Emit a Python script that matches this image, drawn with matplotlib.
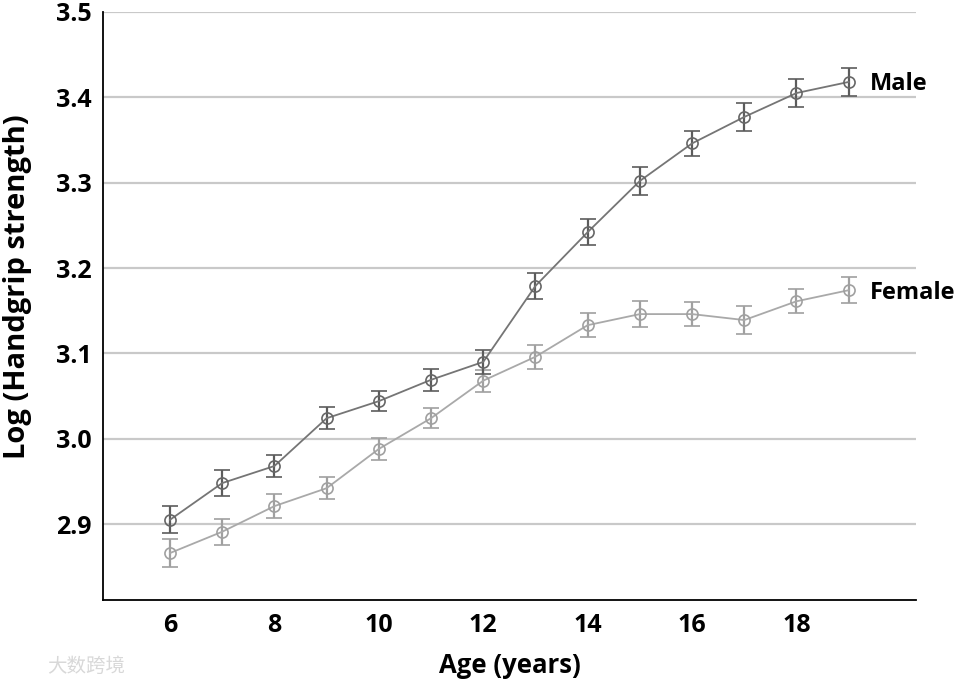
import matplotlib
matplotlib.use("Agg")
from matplotlib import pyplot as plt

ages = [6, 7, 8, 9, 10, 11, 12, 13, 14, 15, 16, 17, 18, 19]
male = [2.905, 2.948, 2.968, 3.024, 3.044, 3.069, 3.090, 3.179, 3.242, 3.302, 3.346, 3.377, 3.405, 3.418]
female = [2.866, 2.891, 2.921, 2.942, 2.988, 3.024, 3.068, 3.096, 3.133, 3.146, 3.146, 3.139, 3.161, 3.174]
male_err = [0.016, 0.015, 0.013, 0.013, 0.012, 0.013, 0.014, 0.015, 0.015, 0.016, 0.015, 0.016, 0.016, 0.016]
female_err = [0.016, 0.015, 0.014, 0.013, 0.013, 0.012, 0.013, 0.014, 0.014, 0.015, 0.014, 0.016, 0.014, 0.015]

plt.rcParams['font.family'] = ['Open Sans', 'DejaVu Sans']

fig = plt.figure(figsize=(9.56, 6.84), dpi=100)
ax = fig.add_axes([0.1077, 0.1228, 0.8505, 0.8597])

for y in [2.9, 3.0, 3.1, 3.2, 3.3, 3.4, 3.5]:
    ax.axhline(y, color='#c9c9c9', lw=1.6, zorder=0)

ax.errorbar(ages, female, yerr=female_err, color='#a9a9a9', ecolor='#a0a0a0',
            marker='o', mfc='none', mec='#a0a0a0', ms=8, mew=1.2, lw=1.3,
            elinewidth=1.6, capsize=5.5, capthick=1.6)
ax.errorbar(ages, male, yerr=male_err, color='#757575', ecolor='#5c5c5c',
            marker='o', mfc='none', mec='#666666', ms=8, mew=1.2, lw=1.3,
            elinewidth=1.6, capsize=5.5, capthick=1.6)

ax.text(19.4, male[-1] - 0.002, 'Male', fontsize=17, fontweight='bold', va='center', ha='left')
ax.text(19.4, female[-1] - 0.003, 'Female', fontsize=17, fontweight='bold', va='center', ha='left')

ax.set_xlim(4.716, 20.29)
ax.set_ylim(2.811, 3.5)
ax.set_xticks([6, 8, 10, 12, 14, 16, 18])
ax.set_yticks([2.9, 3.0, 3.1, 3.2, 3.3, 3.4, 3.5])
ax.set_yticklabels(['2.9', '3.0', '3.1', '3.2', '3.3', '3.4', '3.5'])
ax.tick_params(length=0, labelsize=18)
ax.tick_params(axis='y', pad=8)
ax.tick_params(axis='x', pad=9)
for lab in ax.get_xticklabels() + ax.get_yticklabels():
    lab.set_fontweight('bold')

ax.spines['top'].set_visible(False)
ax.spines['right'].set_visible(False)
ax.spines['left'].set_linewidth(1.3)
ax.spines['bottom'].set_linewidth(1.3)

fig.text(0.533, 0.027, 'Age (years)', fontsize=18.5, fontweight='bold', ha='center', va='center')
fig.text(0.018, 0.581, 'Log (Handgrip strength)', fontsize=21, fontweight='bold',
         rotation=90, ha='center', va='center')

fig.text(0.049, 0.026, '大数跨境', fontsize=14, color='#d8d8d8', ha='left', va='center',
         family=['Noto Sans CJK SC', 'DejaVu Sans'])

fig.savefig('out.png', dpi=100)
